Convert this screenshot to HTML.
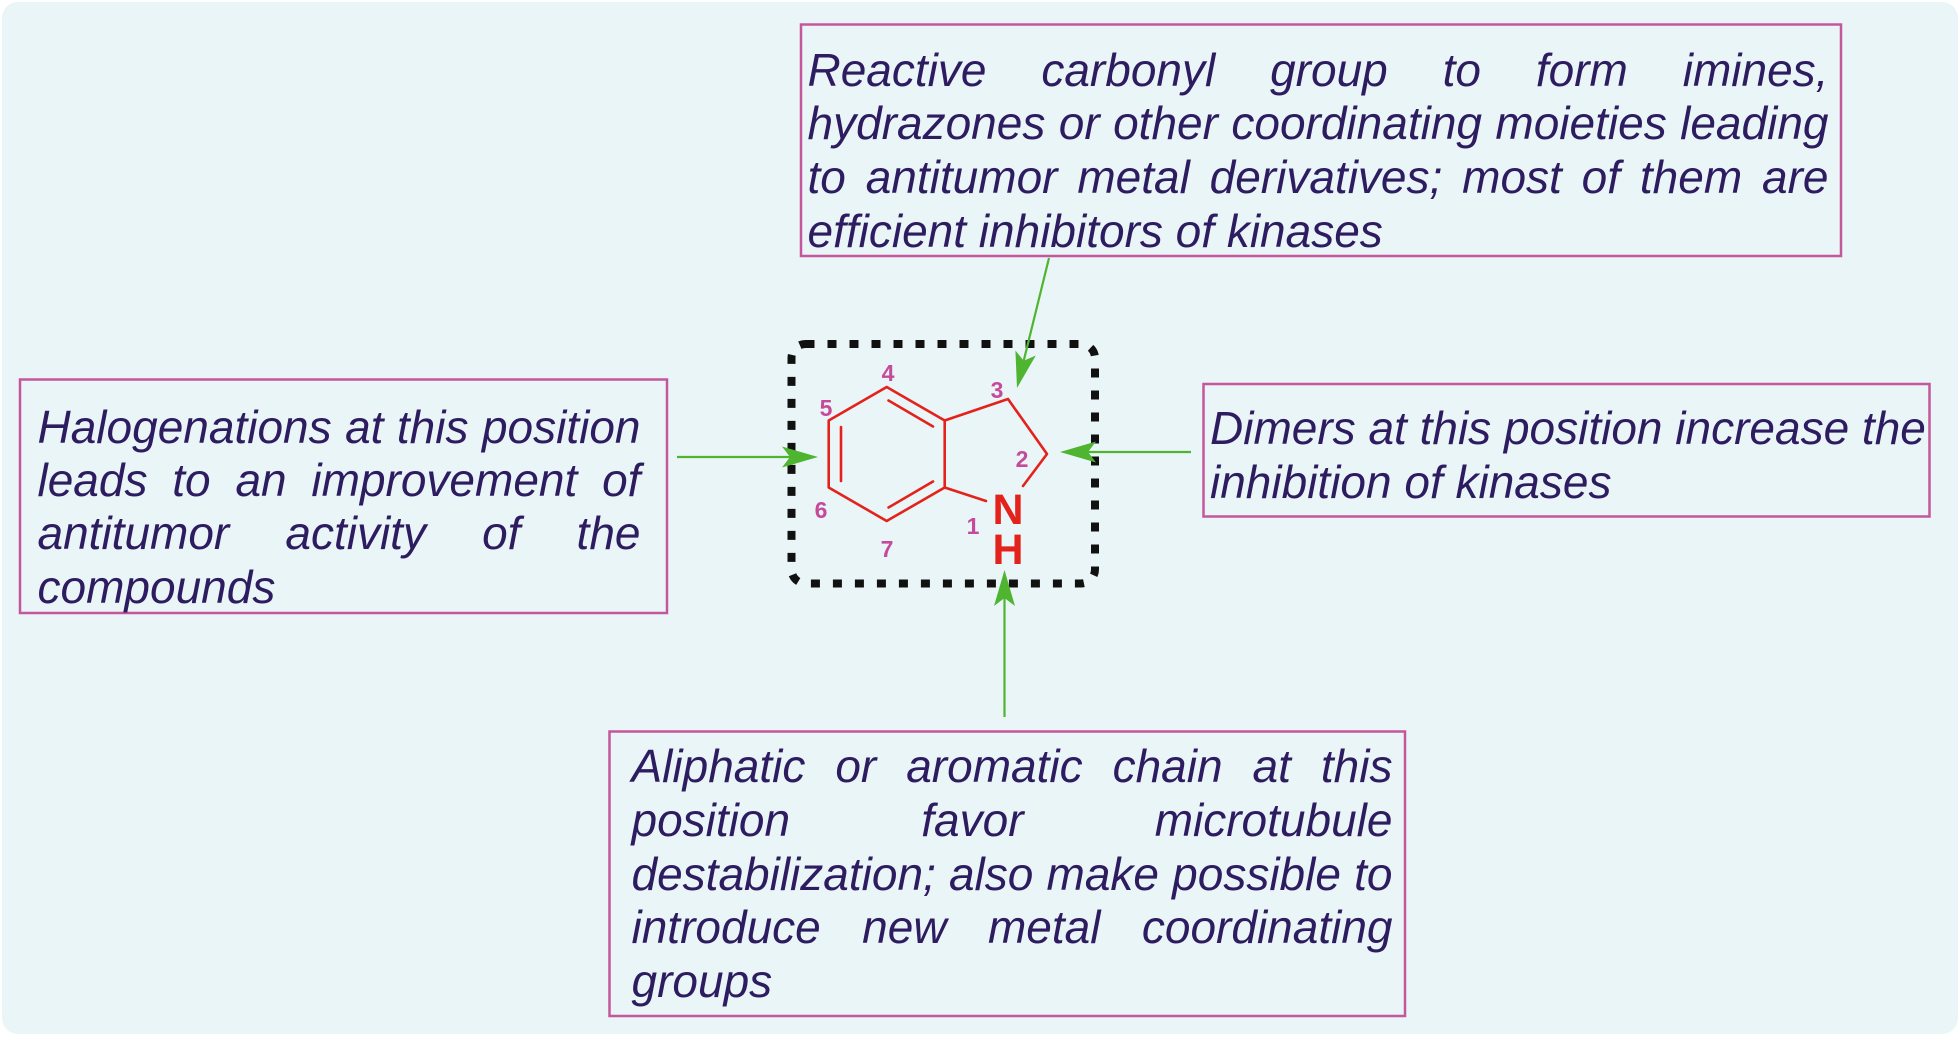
<!DOCTYPE html>
<html>
<head>
<meta charset="utf-8">
<style>
  html, body { margin:0; padding:0; background:#ffffff; }
  #wrap { position:relative; width:1960px; height:1037px; overflow:hidden; background:#ffffff; }
  svg { position:absolute; left:0; top:0; }
  .ln { position:absolute; height:53px; line-height:53px; font-family:"Liberation Sans", Arial, sans-serif; font-style:italic; font-size:46px; color:#2e1c60; white-space:nowrap; }
  .j { display:flex; justify-content:space-between; }
  .j span { display:block; }
</style>
</head>
<body>
<div id="wrap">
<svg width="1960" height="1037" viewBox="0 0 1960 1037" xmlns="http://www.w3.org/2000/svg">
  <!-- background panel -->
  <rect x="2" y="2" width="1956" height="1032" rx="16" ry="16" fill="#eaf5f8"/>

  <!-- text boxes -->
  <rect x="801" y="24.5" width="1040" height="231.5" fill="none" stroke="#c4579b" stroke-width="2.5"/>
  <rect x="20" y="379.5" width="647" height="233.5" fill="none" stroke="#c4579b" stroke-width="2.5"/>
  <rect x="1203.5" y="384" width="726" height="132.5" fill="none" stroke="#c4579b" stroke-width="2.5"/>
  <rect x="609.5" y="731.5" width="795.5" height="284.5" fill="none" stroke="#c4579b" stroke-width="2.5"/>

  <!-- dotted frame -->
  <rect x="791.5" y="344" width="303.5" height="239.5" rx="14" ry="14" fill="none" stroke="#111111" stroke-width="8" stroke-dasharray="9 13"/>

  <!-- indoline structure -->
  <g stroke="#e3221b" stroke-width="2.6" fill="none" stroke-linecap="round" stroke-linejoin="round">
    <polyline points="944.7,420.5 886.7,387 828.7,420.5 828.7,487.5 886.7,521 944.7,487.5 944.7,420.5"/>
    <line x1="888.5" y1="400.5" x2="933" y2="426.5"/>
    <line x1="841" y1="427" x2="841" y2="481"/>
    <line x1="888.5" y1="507.5" x2="933" y2="481.5"/>
    <polyline points="944.7,420.5 1008,399 1047,454 1023,486"/>
    <line x1="944.7" y1="487.5" x2="986" y2="501"/>
  </g>
  <g font-family="Liberation Sans, Arial, sans-serif" font-weight="bold" fill="#e3221b" text-anchor="middle" font-size="43">
    <text x="1008" y="524">N</text>
    <text x="1008" y="564">H</text>
  </g>
  <g font-family="Liberation Sans, Arial, sans-serif" font-weight="bold" fill="#c64a9b" text-anchor="middle" font-size="23">
    <text x="888" y="381">4</text>
    <text x="826" y="416">5</text>
    <text x="821" y="518">6</text>
    <text x="887" y="557">7</text>
    <text x="973" y="534">1</text>
    <text x="1022" y="467">2</text>
    <text x="997" y="398">3</text>
  </g>

  <!-- arrows -->
  <g stroke="#4fb531" stroke-width="2.2" fill="none">
    <line x1="677" y1="457" x2="792" y2="457"/>
    <line x1="1191" y1="452" x2="1088" y2="452"/>
    <line x1="1004.5" y1="717" x2="1004.5" y2="598"/>
    <line x1="1049" y1="258" x2="1023.7" y2="360.8"/>
  </g>
  <g fill="#4fb531" stroke="none">
    <polygon points="818,457 782,467.5 790,457 782,446.5"/>
    <polygon points="1060,452 1096,462.5 1088,452 1096,441.5"/>
    <polygon points="1004.5,570 1015,606 1004.5,598 994,606"/>
    <polygon points="1017,388 1035.8,355.5 1023.7,360.8 1015.4,350.5"/>
  </g>
</svg>

<!-- Top box text -->
<div class="ln j" style="left:807.5px; top:43.6px; width:1021px;"><span>Reactive</span><span>carbonyl</span><span>group</span><span>to</span><span>form</span><span>imines,</span></div>
<div class="ln j" style="left:807.5px; top:97.35px; width:1021px;"><span>hydrazones</span><span>or</span><span>other</span><span>coordinating</span><span>moieties</span><span>leading</span></div>
<div class="ln j" style="left:807.5px; top:151.1px; width:1021px;"><span>to</span><span>antitumor</span><span>metal</span><span>derivatives;</span><span>most</span><span>of</span><span>them</span><span>are</span></div>
<div class="ln" style="left:807.5px; top:204.85px;">efficient inhibitors of kinases</div>

<!-- Left box text -->
<div class="ln j" style="left:37.5px; top:401px; width:603px;"><span>Halogenations</span><span>at</span><span>this</span><span>position</span></div>
<div class="ln j" style="left:37.5px; top:454.2px; width:603px;"><span>leads</span><span>to</span><span>an</span><span>improvement</span><span>of</span></div>
<div class="ln j" style="left:37.5px; top:507.4px; width:603px;"><span>antitumor</span><span>activity</span><span>of</span><span>the</span></div>
<div class="ln" style="left:37.5px; top:560.6px;">compounds</div>

<!-- Right box text -->
<div class="ln" style="left:1210px; top:401.8px;">Dimers at this position increase the</div>
<div class="ln" style="left:1210px; top:455.6px;">inhibition of kinases</div>

<!-- Bottom box text -->
<div class="ln j" style="left:631.5px; top:740.3px; width:761px;"><span>Aliphatic</span><span>or</span><span>aromatic</span><span>chain</span><span>at</span><span>this</span></div>
<div class="ln j" style="left:631.5px; top:793.9px; width:761px;"><span>position</span><span>favor</span><span>microtubule</span></div>
<div class="ln j" style="left:631.5px; top:847.5px; width:761px;"><span>destabilization;</span><span>also</span><span>make</span><span>possible</span><span>to</span></div>
<div class="ln j" style="left:631.5px; top:901.1px; width:761px;"><span>introduce</span><span>new</span><span>metal</span><span>coordinating</span></div>
<div class="ln" style="left:631.5px; top:954.7px;">groups</div>
</div>
</body>
</html>
